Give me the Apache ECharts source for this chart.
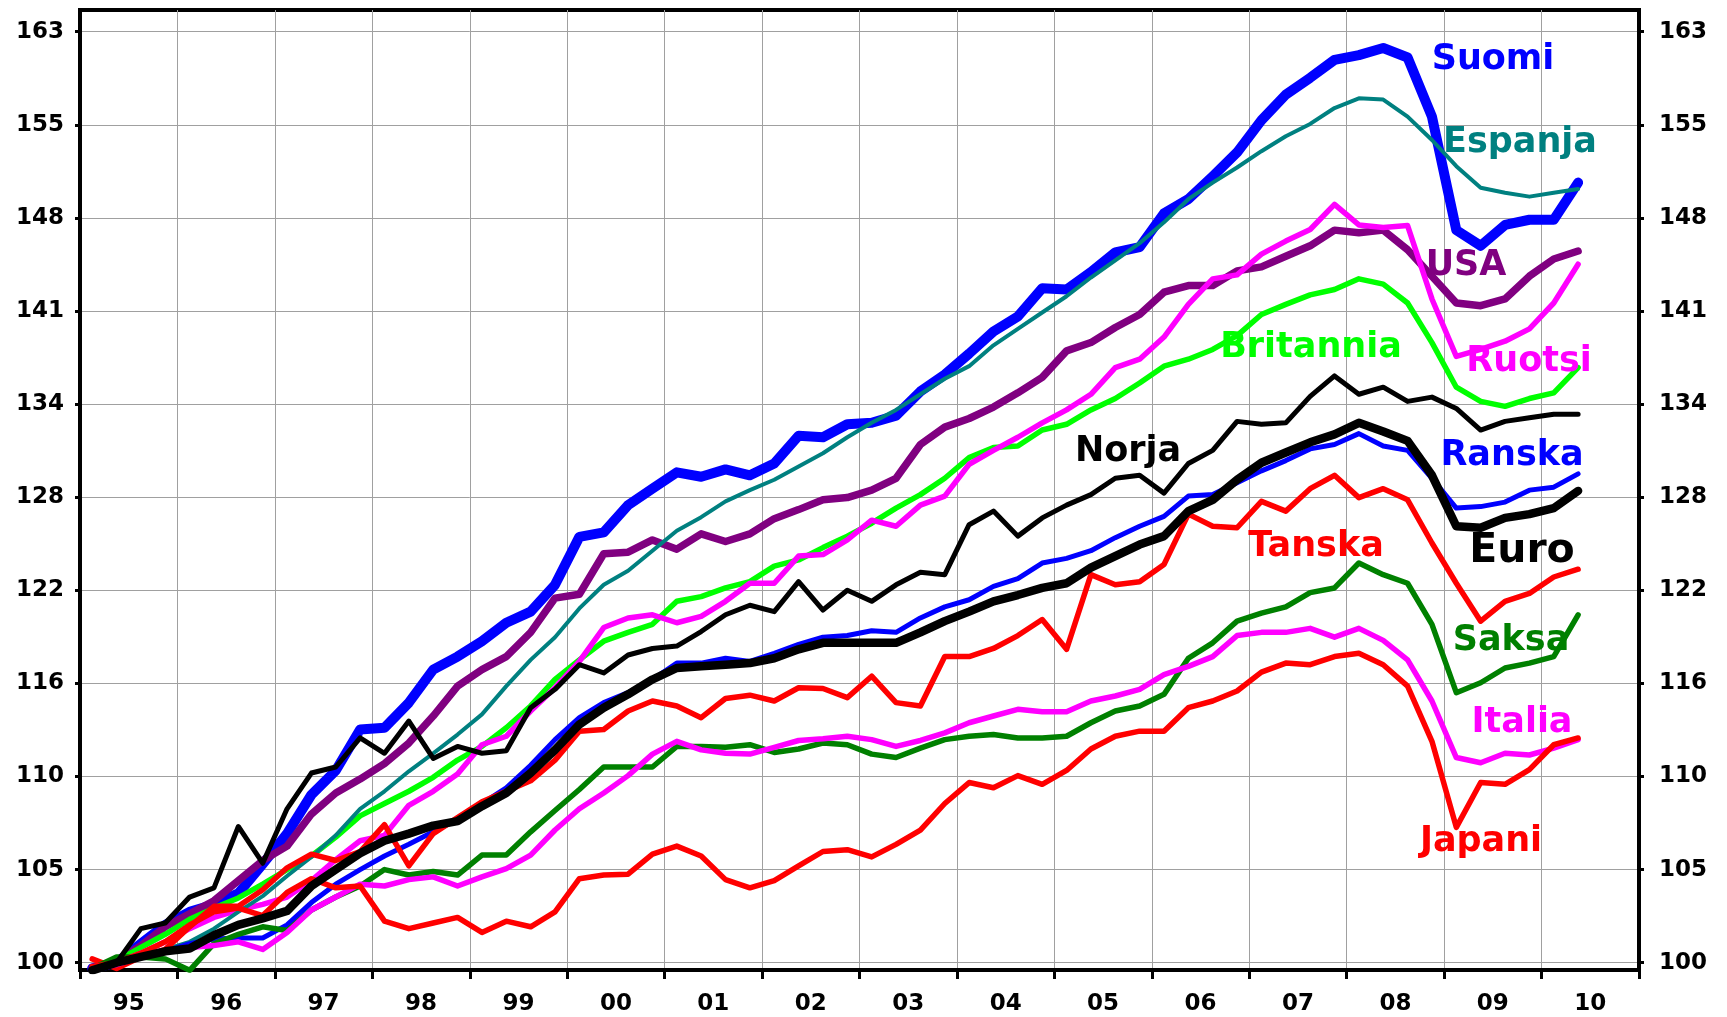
<!DOCTYPE html>
<html>
<head>
<meta charset="utf-8">
<title>BKT-kehitys</title>
<script src="https://cdn.jsdelivr.net/npm/echarts@6/dist/echarts.min.js"></script>
<style>
  html, body { margin: 0; padding: 0; background: #fff; }
  #chart { width: 1727px; height: 1017px; }
</style>
</head>
<body>
<div id="chart"></div>
<script>
// vuosien nimet x-akselilla
const years = ['95', '96', '97', '98', '99', '00', '01', '02', '03', '04', '05', '06', '07', '08', '09', '10'];

// y-akselin (log) jakoviivat ja niiden tekstit
const tickValues = [100, 105, 110.25, 115.76, 121.55, 127.63, 134.01, 140.71, 147.75, 155.13, 162.89];
const tickLabels = ['100', '105', '110', '116', '122', '128', '134', '141', '148', '155', '163'];

// neljännesvuosiaineisto 1995Q1 - 2010Q2
const suomi = [99.7, 100.0, 101.0, 102.0, 102.7, 103.1, 103.7, 105.3, 107.0, 109.2,
  110.6, 113.0, 113.1, 114.6, 116.6, 117.4, 118.35, 119.5, 120.2, 121.9,
  125.0, 125.3, 127.1, 128.2, 129.3, 129.0, 129.5, 129.1, 129.9, 131.8,
  131.7, 132.6, 132.7, 133.2, 134.9, 136.1, 137.6, 139.2, 140.3, 142.4,
  142.3, 143.6, 145.1, 145.5, 148.1, 149.2, 151.0, 152.9, 155.5, 157.6,
  159.0, 160.5, 160.9, 161.5, 160.7, 155.8, 146.8, 145.6, 147.2, 147.6,
  147.6, 150.5];
const espanja = [99.7, 100.0, 100.4, 100.7, 101.1, 101.8, 102.7, 103.55, 104.65, 105.7,
  106.9, 108.4, 109.4, 110.55, 111.6, 112.7, 113.9, 115.6, 117.2, 118.6,
  120.4, 121.9, 122.8, 124.1, 125.4, 126.3, 127.35, 128.1, 128.8, 129.7,
  130.6, 131.7, 132.7, 133.6, 134.7, 135.8, 136.7, 138.2, 139.4, 140.6,
  141.8, 143.2, 144.5, 145.8, 147.4, 149.2, 150.5, 151.7, 153.0, 154.2,
  155.2, 156.5, 157.3, 157.2, 155.8, 153.9, 151.8, 150.1, 149.7, 149.4,
  149.7, 150.0];
const usa = [99.7, 100.1, 100.9, 101.9, 102.6, 103.3, 104.4, 105.5, 106.3, 108.1,
  109.3, 110.1, 111.0, 112.2, 113.8, 115.6, 116.6, 117.4, 118.9, 121.05,
  121.3, 123.9, 124.0, 124.8, 124.2, 125.2, 124.7, 125.2, 126.2, 126.8,
  127.45, 127.6, 128.1, 128.9, 131.2, 132.4, 133.0, 133.8, 134.8, 135.9,
  137.8, 138.4, 139.5, 140.45, 142.1, 142.6, 142.6, 143.7, 144.0, 144.8,
  145.6, 146.8, 146.6, 146.8, 145.3, 143.3, 141.3, 141.1, 141.6, 143.3,
  144.6, 145.2];
const britannia = [99.7, 100.1, 100.8, 101.5, 102.3, 102.9, 103.45, 104.2, 105.0, 105.75,
  106.8, 108.0, 108.7, 109.4, 110.2, 111.2, 112.0, 113.1, 114.4, 116.0,
  117.2, 118.35, 118.9, 119.4, 120.85, 121.15, 121.7, 122.1, 123.1, 123.5,
  124.3, 125.05, 125.9, 126.9, 127.8, 128.9, 130.3, 131.0, 131.1, 132.2,
  132.6, 133.6, 134.4, 135.5, 136.7, 137.2, 137.9, 138.9, 140.45, 141.2,
  141.9, 142.3, 143.1, 142.7, 141.3, 138.4, 135.2, 134.2, 133.85, 134.4,
  134.8, 136.6];
const ruotsi = [99.7, 100.0, 100.5, 101.1, 101.8, 102.4, 102.8, 103.1, 103.5, 104.4,
  105.55, 106.6, 106.9, 108.6, 109.4, 110.4, 112.1, 112.6, 114.1, 115.5,
  117.1, 119.2, 119.8, 120.0, 119.5, 119.9, 120.85, 122.0, 122.0, 123.75,
  123.85, 124.8, 126.1, 125.7, 127.1, 127.7, 129.85, 130.8, 131.7, 132.7,
  133.6, 134.7, 136.6, 137.2, 138.8, 141.2, 143.1, 143.4, 144.96, 145.96,
  146.85, 148.8, 147.2, 147.0, 147.15, 141.6, 137.4, 137.9, 138.5, 139.4,
  141.3, 144.2];
const norja = [99.6, 100.0, 101.8, 102.1, 103.5, 104.0, 107.4, 105.35, 108.4, 110.45,
  110.8, 112.5, 111.6, 113.5, 111.3, 112.0, 111.6, 111.75, 114.3, 115.4,
  116.9, 116.4, 117.5, 117.9, 118.05, 118.95, 120.0, 120.6, 120.2, 122.1,
  120.3, 121.55, 120.85, 121.9, 122.7, 122.55, 125.8, 126.7, 125.05, 126.25,
  127.1, 127.8, 128.9, 129.1, 127.9, 129.9, 130.8, 132.8, 132.6, 132.7,
  134.55, 136.0, 134.7, 135.2, 134.2, 134.5, 133.7, 132.2, 132.8, 133.05,
  133.3, 133.3];
const ranska = [99.6, 99.9, 100.3, 100.6, 101.0, 101.25, 101.3, 101.3, 102.0, 103.2,
  104.2, 105.0, 105.75, 106.4, 107.1, 107.8, 108.7, 109.6, 110.9, 112.4,
  113.7, 114.6, 115.2, 116.0, 117.0, 117.0, 117.3, 117.1, 117.6, 118.15,
  118.6, 118.7, 119.0, 118.9, 119.8, 120.5, 120.95, 121.8, 122.3, 123.3,
  123.6, 124.1, 124.95, 125.7, 126.35, 127.7, 127.8, 128.6, 129.4, 130.1,
  130.9, 131.2, 131.95, 131.1, 130.8, 128.9, 126.9, 127.0, 127.3, 128.1,
  128.3, 129.2];
const euro = [99.6, 100.0, 100.3, 100.6, 100.75, 101.45, 102.0, 102.35, 102.75, 104.1,
  105.0, 105.9, 106.6, 107.0, 107.45, 107.7, 108.55, 109.3, 110.45, 111.8,
  113.3, 114.3, 115.1, 116.0, 116.7, 116.8, 116.9, 117.0, 117.3, 117.85,
  118.25, 118.25, 118.25, 118.25, 118.9, 119.6, 120.2, 120.85, 121.25, 121.7,
  122.0, 123.0, 123.75, 124.5, 125.05, 126.7, 127.45, 128.8, 129.95, 130.65,
  131.35, 131.9, 132.7, 132.1, 131.45, 129.1, 125.7, 125.6, 126.25, 126.5,
  126.9, 128.05];
const tanska = [100.2, 99.7, 100.3, 100.7, 101.9, 103.0, 103.0, 103.9, 105.1, 105.85,
  105.5, 106.0, 107.5, 105.2, 107.0, 107.9, 108.8, 109.4, 110.0, 111.2,
  112.9, 113.0, 114.1, 114.7, 114.4, 113.7, 114.85, 115.05, 114.7, 115.5,
  115.45, 114.9, 116.2, 114.6, 114.4, 117.4, 117.4, 117.9, 118.7, 119.7,
  117.85, 122.55, 121.9, 122.1, 123.2, 126.5, 125.7, 125.6, 127.35, 126.7,
  128.2, 129.1, 127.6, 128.2, 127.45, 124.6, 122.0, 119.6, 120.85, 121.35,
  122.4, 122.9];
const japani = [99.8, 100.0, 100.5, 101.1, 102.0, 102.7, 102.9, 102.5, 103.75, 104.5,
  104.0, 104.1, 102.2, 101.8, 102.1, 102.4, 101.6, 102.2, 101.9, 102.7,
  104.5, 104.7, 104.75, 105.85, 106.3, 105.75, 104.45, 104.0, 104.4, 105.2,
  106.0, 106.1, 105.7, 106.4, 107.2, 108.7, 109.9, 109.6, 110.3, 109.8,
  110.6, 111.85, 112.6, 112.9, 112.9, 114.3, 114.7, 115.3, 116.45, 117.0,
  116.9, 117.4, 117.6, 116.9, 115.6, 112.3, 107.35, 109.9, 109.8, 110.65,
  112.1, 112.5];
const saksa = [99.7, 100.3, 100.3, 100.2, 99.6, 101.0, 101.5, 101.9, 101.7, 102.8,
  103.5, 104.1, 105.0, 104.7, 104.9, 104.7, 105.8, 105.8, 107.1, 108.3,
  109.5, 110.8, 110.8, 110.8, 112.0, 112.0, 111.95, 112.1, 111.65, 111.85,
  112.2, 112.1, 111.55, 111.35, 111.9, 112.4, 112.6, 112.7, 112.5, 112.5,
  112.6, 113.4, 114.1, 114.4, 115.1, 117.3, 118.25, 119.6, 120.1, 120.5,
  121.4, 121.7, 123.3, 122.55, 122.0, 119.4, 115.2, 115.8, 116.7, 117.0,
  117.4, 120.0];
const italia = [99.6, 99.9, 100.3, 100.6, 100.8, 100.9, 101.1, 100.7, 101.6, 102.8,
  103.5, 104.2, 104.1, 104.45, 104.6, 104.1, 104.6, 105.05, 105.8, 107.2,
  108.4, 109.3, 110.3, 111.55, 112.3, 111.8, 111.6, 111.55, 111.95, 112.35,
  112.45, 112.6, 112.4, 112.0, 112.35, 112.8, 113.4, 113.8, 114.2, 114.05,
  114.05, 114.7, 115.0, 115.4, 116.3, 116.8, 117.4, 118.7, 118.9, 118.9,
  119.15, 118.6, 119.15, 118.4, 117.2, 114.7, 111.35, 111.05, 111.6, 111.5,
  111.9, 112.4];

// neljännekset: 1995Q1 ... 2010Q2, piste neljänneksen keskikuulle
const quarters = [];
for (let y = 1995; y <= 2010; y++) {
  for (let q = 1; q <= 4; q++) {
    if (y === 2010 && q > 2) break;
    quarters.push(y + 'Q' + q);
  }
}
function qTime(label) {
  const y = parseInt(label.slice(0, 4), 10);
  const q = parseInt(label.slice(5), 10);
  return y + (q - 1) * 0.25 + 0.125;
}
function toPoints(arr) {
  return arr.map((v, i) => [qTime(quarters[i]), v]);
}

const chart = echarts.init(document.getElementById('chart'));

const fontFamily = '"DejaVu Sans", Arial, sans-serif';

// sarjat piirtojärjestyksessä (viimeinen päällimmäisenä)
const lines = [
  { name: 'Suomi', data: suomi, color: '#0000ff', width: 10 },
  { name: 'USA', data: usa, color: '#800080', width: 7.5 },
  { name: 'Britannia', data: britannia, color: '#00ff00', width: 5.5 },
  { name: 'Ruotsi', data: ruotsi, color: '#ff00ff', width: 5.5 },
  { name: 'Espanja', data: espanja, color: '#008080', width: 4 },
  { name: 'Ranska', data: ranska, color: '#0000ff', width: 5 },
  { name: 'Tanska', data: tanska, color: '#ff0000', width: 5.5 },
  { name: 'Saksa', data: saksa, color: '#008000', width: 5.5 },
  { name: 'Italia', data: italia, color: '#ff00ff', width: 5.5 },
  { name: 'Japani', data: japani, color: '#ff0000', width: 5.5 },
  { name: 'Norja', data: norja, color: '#000000', width: 5 },
  { name: 'Euro', data: euro, color: '#000000', width: 8.5 }
];

// sarjojen nimet kuvaan
const labels = [
  { text: 'Suomi', x: 1493, y: 60, color: '#0000ff', size: 35 },
  { text: 'Espanja', x: 1520, y: 143, color: '#008080', size: 35 },
  { text: 'USA', x: 1466, y: 266, color: '#800080', size: 35 },
  { text: 'Britannia', x: 1311, y: 348, color: '#00ff00', size: 35 },
  { text: 'Ruotsi', x: 1529, y: 362, color: '#ff00ff', size: 35 },
  { text: 'Norja', x: 1128, y: 452, color: '#000000', size: 35 },
  { text: 'Ranska', x: 1512, y: 456, color: '#0000ff', size: 35 },
  { text: 'Tanska', x: 1316, y: 547, color: '#ff0000', size: 35 },
  { text: 'Euro', x: 1522, y: 551, color: '#000000', size: 41 },
  { text: 'Saksa', x: 1511, y: 641, color: '#008000', size: 35 },
  { text: 'Italia', x: 1522, y: 723, color: '#ff00ff', size: 35 },
  { text: 'Japani', x: 1481, y: 842, color: '#ff0000', size: 35 }
];

function tickText(v) {
  for (let i = 0; i < tickValues.length; i++) {
    if (Math.abs(tickValues[i] - v) < 0.05) return tickLabels[i];
  }
  return '';
}

function yAxisCfg(pos, margin) {
  return {
    type: 'log',
    logBase: 1.05,
    position: pos,
    min: 99.618,
    max: 164.75,
    axisLine: { show: true, lineStyle: { color: '#000', width: 4 } },
    axisTick: {
      show: true, customValues: tickValues, length: 5,
      lineStyle: { color: '#000', width: 3 }
    },
    axisLabel: {
      customValues: tickValues,
      formatter: tickText,
      color: '#000',
      fontFamily: fontFamily,
      fontWeight: 'bold',
      fontSize: 23,
      margin: margin
    },
    splitLine: { show: pos === 'left', lineStyle: { color: '#a0a0a0', width: 1 } },
    minorTick: { show: false },
    minorSplitLine: { show: false }
  };
}

const option = {
  backgroundColor: '#fff',
  animation: false,
  grid: {
    left: 80, right: 88, top: 10, bottom: 47,
    show: true, borderColor: '#000', borderWidth: 4
  },
  xAxis: [{
    type: 'category',
    data: years,
    position: 'bottom',
    boundaryGap: true,
    axisLine: { show: true, onZero: false, lineStyle: { color: '#000', width: 4 } },
    axisTick: { show: true, interval: 0, length: 9, lineStyle: { color: '#000', width: 3 } },
    axisLabel: {
      interval: 0, color: '#000', fontFamily: fontFamily,
      fontWeight: 'bold', fontSize: 23, margin: 23
    },
    splitLine: { show: true, interval: 0, lineStyle: { color: '#a0a0a0', width: 1 } }
  }, {
    type: 'value',
    min: 1995,
    max: 2011,
    show: false
  }],
  yAxis: [yAxisCfg('left', 16), yAxisCfg('right', 20)],
  series: lines.map(s => ({
    name: s.name,
    type: 'line',
    xAxisIndex: 1,
    yAxisIndex: 0,
    data: toPoints(s.data),
    showSymbol: false,
    symbol: 'none',
    silent: true,
    lineStyle: { color: s.color, width: s.width, cap: 'round', join: 'round' }
  })),
  graphic: labels.map(l => ({
    type: 'text',
    x: l.x,
    y: l.y,
    z: 100,
    style: {
      text: l.text,
      fill: l.color,
      font: 'bold ' + l.size + 'px ' + fontFamily,
      align: 'center',
      verticalAlign: 'middle',
      textAlign: 'center',
      textVerticalAlign: 'middle'
    }
  }))
};

chart.setOption(option);
</script>
</body>
</html>
